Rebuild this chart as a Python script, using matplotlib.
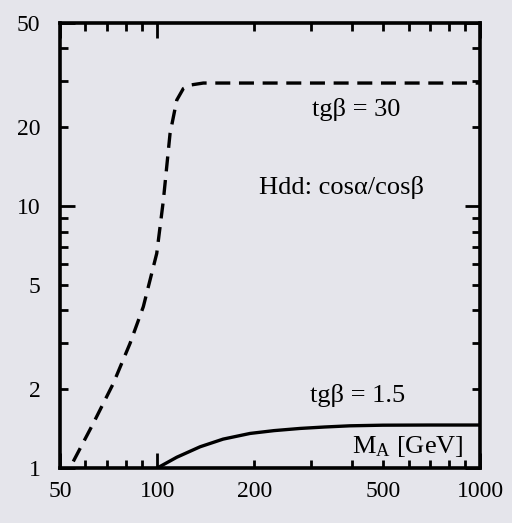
import numpy as np
import matplotlib.pyplot as plt
from matplotlib.ticker import FixedLocator, FuncFormatter

plt.rcParams['font.family'] = ['Liberation Serif', 'DejaVu Serif']
plt.rcParams['mathtext.fontset'] = 'custom'
plt.rcParams['mathtext.rm'] = 'Liberation Serif'
plt.rcParams['mathtext.it'] = 'Liberation Serif:italic'

# tgβ = 30 (dashed)
ma_30 = [55, 63.4, 73.1, 82.4, 90.6, 99.7, 104.5, 109.6, 115, 120.5, 127, 139, 200, 400, 1000]
hdd_30 = [1.06, 1.48, 2.1, 2.99, 4.13, 6.6, 10.5, 18.9, 25.4, 28.1, 29.0, 29.5, 29.5, 29.5, 29.5]

# tgβ = 1.5 (solid)
ma_15 = [100, 115, 135.8, 160, 193.9, 230, 277, 330, 395, 500, 700, 1000]
hdd_15 = [1.0, 1.1, 1.206, 1.29, 1.356, 1.39, 1.417, 1.435, 1.45, 1.458, 1.46, 1.46]

x_labels = [50, 100, 200, 500, 1000]
y_labels = [1, 2, 5, 10, 20, 50]

bg = '#e5e5eb'
fig = plt.figure(figsize=(5.12, 5.23), dpi=100, facecolor=bg)
ax = fig.add_axes([0.117, 0.105, 0.821, 0.851], facecolor=bg)

ax.plot(ma_30, hdd_30, color='black', lw=2.4, dashes=(4.5, 2.6))
ax.plot(ma_15, hdd_15, color='black', lw=2.4)

ax.set_xscale('log')
ax.set_yscale('log')
ax.set_xlim(50, 1000)
ax.set_ylim(1, 50)

# long ticks only at 100 and 10, short ticks elsewhere
ax.xaxis.set_major_locator(FixedLocator([50, 100, 1000]))
ax.xaxis.set_minor_locator(FixedLocator([60, 70, 80, 90, 200, 300, 400, 500, 600, 700, 800, 900]))
ax.yaxis.set_major_locator(FixedLocator([1, 10, 50]))
ax.yaxis.set_minor_locator(FixedLocator([2, 3, 4, 5, 6, 7, 8, 9, 20, 30, 40]))

def pick(labels):
    return FuncFormatter(lambda v, p: '%d' % round(v) if round(v) in labels else '')

ax.xaxis.set_major_formatter(pick(x_labels))
ax.xaxis.set_minor_formatter(pick(x_labels))
ax.yaxis.set_major_formatter(pick(y_labels))
ax.yaxis.set_minor_formatter(pick(y_labels))

ax.tick_params(which='both', direction='in', top=True, right=True, width=2,
               labelsize=17)
ax.tick_params(axis='x', which='both', pad=9)
ax.tick_params(axis='y', which='both', pad=14)
ax.tick_params(which='major', length=11)
ax.tick_params(which='minor', length=6)
for s in ax.spines.values():
    s.set_linewidth(2.6)

ax.text(413, 23.3, 'tgβ = 30', fontsize=19, ha='center', va='center')
ax.text(373, 11.8, 'Hdd: cosα/cosβ', fontsize=19, ha='center', va='center')
ax.text(418, 1.9, 'tgβ = 1.5', fontsize=19, ha='center', va='center')
ax.text(885, 1.21, r'M$_\mathrm{A}$ [GeV]', fontsize=19, ha='right', va='center')

fig.savefig('out.png', dpi=100, facecolor=bg)
